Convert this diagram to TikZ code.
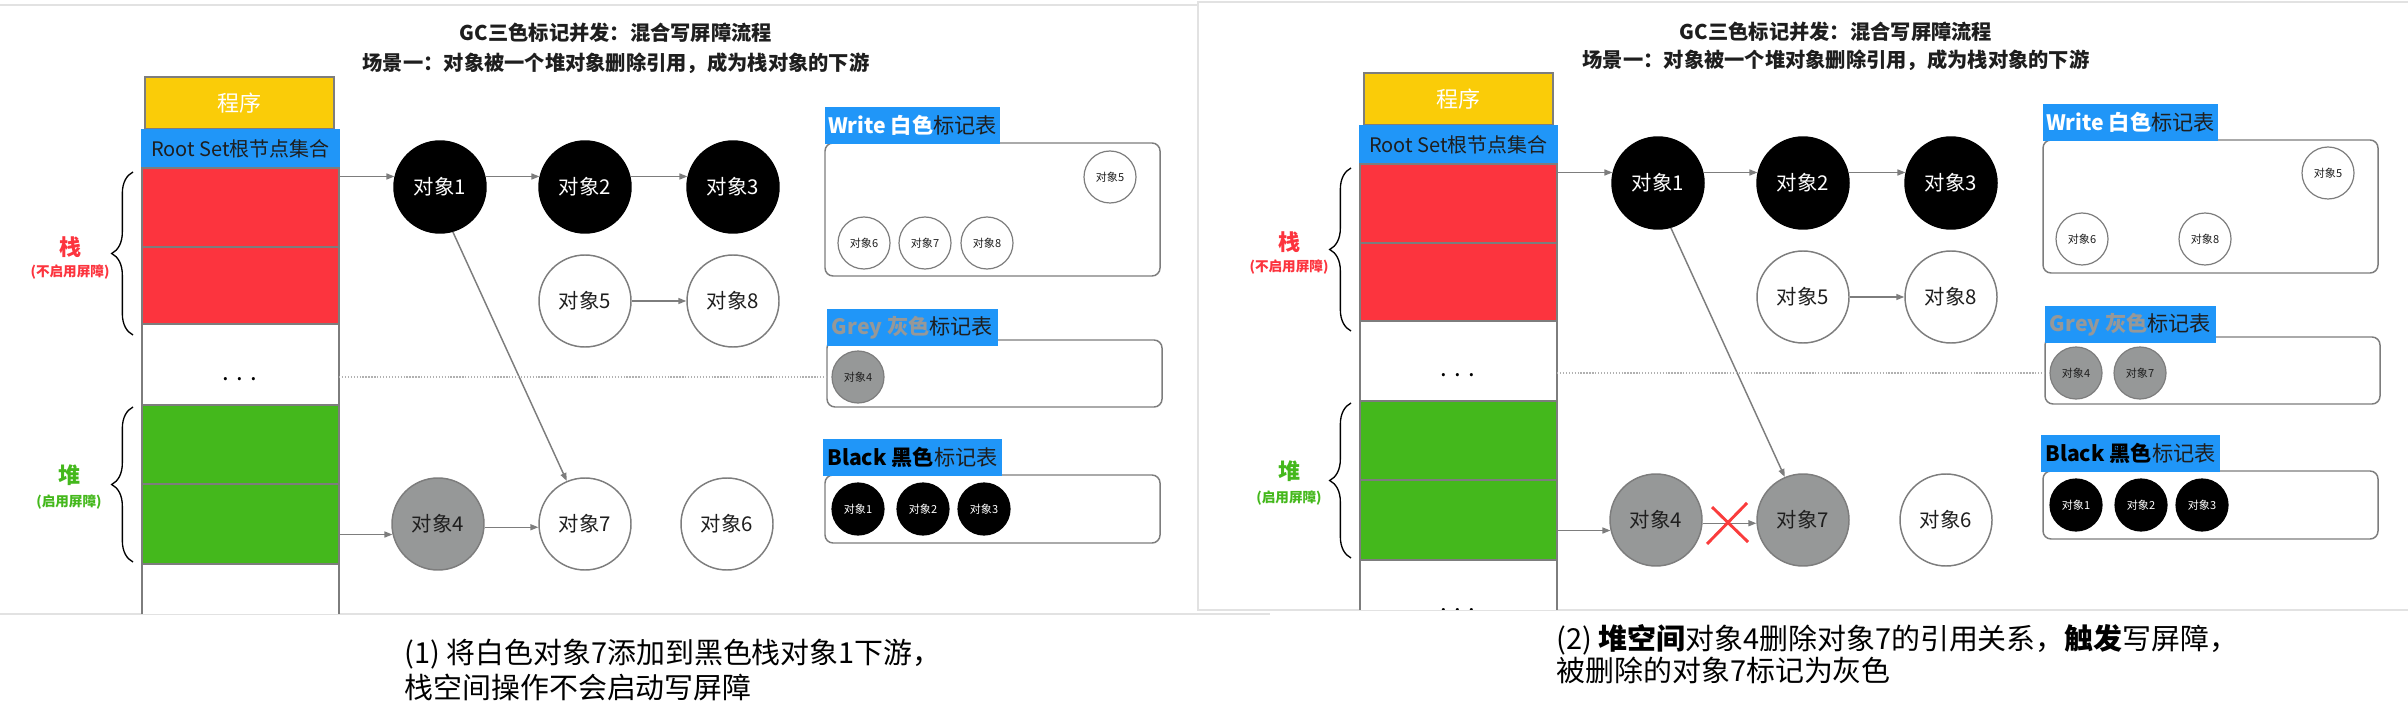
\documentclass[tikz,border=0pt]{standalone}
\usepackage{fontspec}
\setmainfont{Noto Sans CJK SC}
\usetikzlibrary{arrows.meta,decorations.pathreplacing}

\definecolor{progyellow}{RGB}{250,204,8}
\definecolor{setblue}{RGB}{32,150,248}
\definecolor{stackred}{RGB}{252,52,62}
\definecolor{heapgreen}{RGB}{68,184,28}
\definecolor{objgrey}{RGB}{150,152,152}
\definecolor{edgegrey}{RGB}{125,125,125}
\definecolor{framegrey}{RGB}{226,226,226}
\definecolor{inkdark}{RGB}{30,30,30}
\definecolor{crossred}{RGB}{250,60,60}

\tikzset{every picture/.style={line width=0.75pt}}
\tikzset{
  blk/.style={draw=edgegrey, line width=1.5pt, anchor=north west, minimum width=147.75pt, inner sep=0pt, outer sep=0pt},
  obj/.style={circle, draw=edgegrey, line width=1.1pt, fill=white, text=inkdark, minimum size=69pt, inner sep=0pt, font=\fontsize{15.3}{18}\selectfont},
  blackobj/.style={obj, draw=black, fill=black, text=white},
  greyobj/.style={obj, draw=edgegrey, fill=objgrey, text=inkdark},
  smallobj/.style={minimum size=39pt, line width=0.9pt, font=\fontsize{8.3}{10}\selectfont},
  tabhead/.style={fill=setblue, anchor=north west, minimum width=131.25pt, minimum height=27.75pt, inner sep=0pt, outer sep=0pt, text=inkdark, font=\fontsize{15.9}{18}\selectfont},
  tabbox/.style={draw=edgegrey, line width=1.1pt, rounded corners=6pt, anchor=north west, minimum width=251.25pt, inner sep=0pt, outer sep=0pt},
  ptr/.style={draw=edgegrey, line width=1.1pt, -{Triangle[length=6pt,width=4.5pt]}},
  dotline/.style={draw=edgegrey!60, line width=1pt, dash pattern=on 1pt off 1.2pt},
  cutmark/.style={draw=crossred, line width=2.2pt},
  brc/.style={decorate, decoration={brace, amplitude=16pt, aspect=0.5}, line width=1pt},
  frame/.style={draw=framegrey, line width=1.1pt},
  heading/.style={text=inkdark, inner sep=0pt, font=\bfseries\fontsize{15.2}{18}\selectfont},
  dots/.style={anchor=base, inner sep=0pt, font=\fontsize{18}{20}\selectfont},
  sidelbl/.style={inner sep=0pt, font=\bfseries\fontsize{16.5}{18}\selectfont},
  sidenote/.style={inner sep=0pt, font=\bfseries\fontsize{10.2}{12}\selectfont},
  caption/.style={anchor=west, align=left, inner sep=0pt, text=black}
}

\begin{document}
\begin{tikzpicture}[x=0.75pt,y=0.75pt,yscale=-1,xscale=1]
\useasboundingbox (0,0) rectangle (2408,720);

%Straight Lines [frames of the two screenshots]
\draw [frame] (0,5) -- (1198,5);
\draw [frame] (0,614) -- (1270,614);
\draw [frame] (2408,2) -- (1198,2) -- (1198,610) -- (2408,610);

%%%%%%%%%%%%%%%% (1) left screenshot
\begin{scope}
\clip (0,6) rectangle (1197,613);
% Text Node
\node [heading] (Lt1) at (616,33) {GC三色标记并发：混合写屏障流程};
% Text Node
\node [heading] (Lt2) at (616,63) {场景一：对象被一个堆对象删除引用，成为栈对象的下游};

%Shape: Rectangle [program + root set + stack/heap]
\node [blk, fill=progyellow, minimum width=141.75pt, minimum height=39pt, line width=1pt, text=white, font=\fontsize{16.5}{18}\selectfont] (Lprog) at (145,77) {程序};
\node [blk, draw=setblue, fill=setblue, minimum height=28.5pt, text=inkdark, font=\fontsize{15}{16}\selectfont] (Lroot) at (142,130) {Root Set根节点集合};
\node [blk, fill=stackred, minimum height=59.25pt] (Lstk1) at (142,168) {};
\node [blk, fill=stackred, minimum height=57.75pt] (Lstk2) at (142,247) {};
\node [blk, fill=white, minimum height=60.75pt] (Lfree1) at (142,324) {};
\node [blk, fill=heapgreen, minimum height=59.25pt] (Lheap1) at (142,405) {};
\node [blk, fill=heapgreen, minimum height=60pt] (Lheap2) at (142,484) {};
\node [blk, fill=white, minimum height=45pt] (Lfree2) at (142,564) {};
% Text Node
\node [dots] (Ld1) at (240,380) {. . .};
\node [dots] (Ld2) at (240,617) {. . .};

% Text Node [stack / heap labels]
\node [sidelbl, text=stackred] (Lstk) at (70,247) {栈};
\node [sidenote, text=stackred] (Lstkn) at (70,272) {(不启用屏障)};
\draw [brc] (133,335) -- (133,172);
\node [sidelbl, text=heapgreen] (Lhp) at (69,475) {堆};
\node [sidenote, text=heapgreen] (Lhpn) at (69,502) {(启用屏障)};
\draw [brc] (133,562) -- (133,407);

%Shape: Circle [objects]
\node [blackobj] (Lo1) at (440,187) {对象1};
\node [blackobj] (Lo2) at (585,187) {对象2};
\node [blackobj] (Lo3) at (733,187) {对象3};
\node [obj] (Lo5) at (585,301) {对象5};
\node [obj] (Lo8) at (733,301) {对象8};
\node [greyobj] (Lo4) at (438,524) {对象4};
\node [obj] (Lo7) at (585,524) {对象7};
\node [obj] (Lo6) at (727,524) {对象6};

%Shape: Rectangle [colour tables]
\node [tabbox, minimum height=99.75pt] (Lwbox) at (825,143) {};
\node [tabhead] (Lwhead) at (825,107) {{\bfseries\color{white}Write 白色}标记表};
\node [tabbox, minimum height=50.25pt] (Lgbox) at (827,340) {};
\node [tabhead, minimum width=128.25pt] (Lghead) at (827,309) {{\bfseries\color{objgrey}Grey 灰色}标记表};
\node [tabbox, minimum height=51pt] (Lbbox) at (825,475) {};
\node [tabhead, minimum width=134.25pt] (Lbhead) at (823,439) {{\bfseries\color{black}Black 黑色}标记表};

%Shape: Circle [table entries]
\node [obj, smallobj] (Lw5) at (1110,177) {对象5};
\node [obj, smallobj] (Lw6) at (864,243) {对象6};
\node [obj, smallobj] (Lw7) at (925,243) {对象7};
\node [obj, smallobj] (Lw8) at (987,243) {对象8};
\node [greyobj, smallobj] (Lg4) at (858,377) {对象4};
\node [blackobj, smallobj] (Lb1) at (858,509) {对象1};
\node [blackobj, smallobj] (Lb2) at (923,509) {对象2};
\node [blackobj, smallobj] (Lb3) at (984,509) {对象3};

%Straight Lines
\draw [ptr] (Lstk1.east |- Lo1.167) -- (Lo1.167);
\draw [ptr] (Lo1.13) -- (Lo2.167);
\draw [ptr] (Lo2.13) -- (Lo3.167);
\draw [ptr] (Lo5) -- (Lo8);
\draw [ptr] (Lo1.-74) -- (Lo7.113);
\draw [ptr] (Lheap2.east |- Lo4.193) -- (Lo4.193);
\draw [ptr] (Lo4.-4) -- (Lo7.184);
\draw [dotline] (Lfree1.east |- Lg4) -- (Lgbox.west |- Lg4);
\end{scope}

% Text Node
\node [caption, font=\fontsize{21.7}{26.25}\selectfont] (Lcap) at (404,669.5) {(1) 将白色对象7添加到黑色栈对象1下游，\\栈空间操作不会启动写屏障};

%%%%%%%%%%%%%%%% (2) right screenshot
\begin{scope}[shift={(1218,-4)}]
\begin{scope}
\clip (-19,7) rectangle (1190,613);
% Text Node
\node [heading] (Rt1) at (618,36) {GC三色标记并发：混合写屏障流程};
% Text Node
\node [heading] (Rt2) at (618,64) {场景一：对象被一个堆对象删除引用，成为栈对象的下游};

%Shape: Rectangle [program + root set + stack/heap]
\node [blk, fill=progyellow, minimum width=141.75pt, minimum height=39pt, line width=1pt, text=white, font=\fontsize{16.5}{18}\selectfont] (Rprog) at (146,77) {程序};
\node [blk, draw=setblue, fill=setblue, minimum height=28.5pt, text=inkdark, font=\fontsize{15}{16}\selectfont] (Rroot) at (142,130) {Root Set根节点集合};
\node [blk, fill=stackred, minimum height=59.25pt] (Rstk1) at (142,168) {};
\node [blk, fill=stackred, minimum height=58.5pt] (Rstk2) at (142,247) {};
\node [blk, fill=white, minimum height=60pt] (Rfree1) at (142,325) {};
\node [blk, fill=heapgreen, minimum height=59.25pt] (Rheap1) at (142,405) {};
\node [blk, fill=heapgreen, minimum height=60pt] (Rheap2) at (142,484) {};
\node [blk, fill=white, minimum height=45pt] (Rfree2) at (142,564) {};
% Text Node
\node [dots] (Rd1) at (240,380) {. . .};
\node [dots] (Rd2) at (240,615) {. . .};

% Text Node [stack / heap labels]
\node [sidelbl, text=stackred] (Rstk) at (71,246) {栈};
\node [sidenote, text=stackred] (Rstkn) at (71,271) {(不启用屏障)};
\draw [brc] (133,335) -- (133,172);
\node [sidelbl, text=heapgreen] (Rhp) at (71,475) {堆};
\node [sidenote, text=heapgreen] (Rhpn) at (71,502) {(启用屏障)};
\draw [brc] (133,562) -- (133,407);

%Shape: Circle [objects]
\node [blackobj] (Ro1) at (440,187) {对象1};
\node [blackobj] (Ro2) at (585,187) {对象2};
\node [blackobj] (Ro3) at (733,187) {对象3};
\node [obj] (Ro5) at (585,301) {对象5};
\node [obj] (Ro8) at (733,301) {对象8};
\node [greyobj] (Ro4) at (438,524) {对象4};
\node [greyobj] (Ro7) at (585,524) {对象7};
\node [obj] (Ro6) at (728,524) {对象6};

%Shape: Rectangle [colour tables]
\node [tabbox, minimum height=99.75pt] (Rwbox) at (825,144) {};
\node [tabhead] (Rwhead) at (825,108) {{\bfseries\color{white}Write 白色}标记表};
\node [tabbox, minimum height=50.25pt] (Rgbox) at (827,341) {};
\node [tabhead, minimum width=128.25pt] (Rghead) at (827,310) {{\bfseries\color{objgrey}Grey 灰色}标记表};
\node [tabbox, minimum height=51pt] (Rbbox) at (825,475) {};
\node [tabhead, minimum width=134.25pt] (Rbhead) at (823,439) {{\bfseries\color{black}Black 黑色}标记表};

%Shape: Circle [table entries]
\node [obj, smallobj] (Rw5) at (1110,177) {对象5};
\node [obj, smallobj] (Rw6) at (864,243) {对象6};
\node [obj, smallobj] (Rw8) at (987,243) {对象8};
\node [greyobj, smallobj] (Rg4) at (858,377) {对象4};
\node [greyobj, smallobj] (Rg7) at (922,377) {对象7};
\node [blackobj, smallobj] (Rb1) at (858,509) {对象1};
\node [blackobj, smallobj] (Rb2) at (923,509) {对象2};
\node [blackobj, smallobj] (Rb3) at (984,509) {对象3};

%Straight Lines
\draw [ptr] (Rstk1.east |- Ro1.167) -- (Ro1.167);
\draw [ptr] (Ro1.13) -- (Ro2.167);
\draw [ptr] (Ro2.13) -- (Ro3.167);
\draw [ptr] (Ro5) -- (Ro8);
\draw [ptr] (Ro1.-74) -- (Ro7.113);
\draw [ptr] (Rheap2.east |- Ro4.193) -- (Ro4.193);
\draw [ptr] (Ro4.-4) -- (Ro7.184);
\draw [dotline] (Rfree1.east |- Rg4) -- (Rgbox.west |- Rg4);
% red cross over the deleted reference
\draw [cutmark] (494,511) -- (530,546) (529,507) -- (489,548);
\end{scope}

% Text Node
\node [caption, font=\fontsize{21.7}{24}\selectfont] (Rcap) at (338,658) {(2) \textbf{堆空间}对象4删除对象7的引用关系，\textbf{触发}写屏障，\\被删除的对象7标记为灰色};
\end{scope}

\end{tikzpicture}
\end{document}
